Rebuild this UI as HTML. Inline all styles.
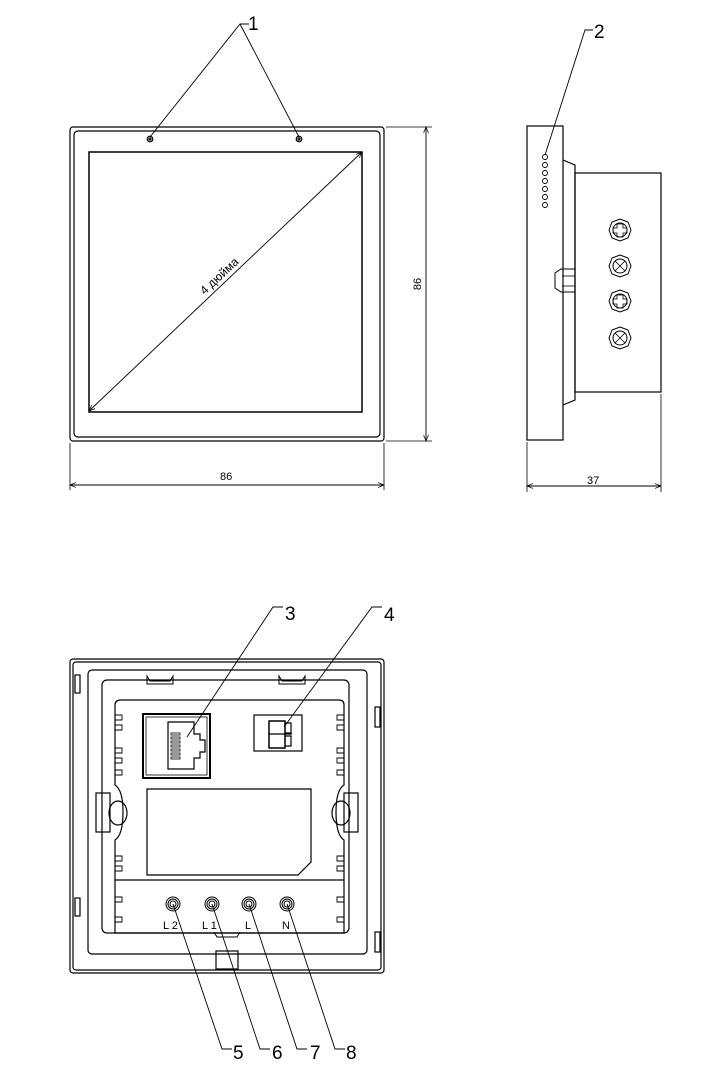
<!DOCTYPE html>
<html><head><meta charset="utf-8"><style>
html,body{margin:0;padding:0;background:#fff;}
svg{display:block;}
text{font-family:"Liberation Sans",sans-serif;fill:#000;}
</style></head><body>
<svg width="714" height="1084" viewBox="0 0 714 1084" xmlns="http://www.w3.org/2000/svg">
<defs>
<marker id="a" viewBox="0 0 10 10" refX="10" refY="5" markerWidth="9" markerHeight="6" orient="auto-start-reverse" markerUnits="userSpaceOnUse"><path d="M0,1 L10,5 L0,9" fill="none" stroke="#000" stroke-width="1.2"/></marker>
</defs>
<g fill="none" stroke="#000" stroke-width="1.2">
<rect x="70" y="127" width="314" height="314" rx="3"/>
<rect x="74" y="131" width="306" height="306" rx="4"/>
<rect x="89" y="152" width="273" height="260" stroke-width="1.5"/>
<circle cx="150" cy="139" r="2.8"/><circle cx="150" cy="139" r="1" />
<circle cx="299" cy="139" r="2.8"/><circle cx="299" cy="139" r="1"/>
<line x1="89" y1="411" x2="362" y2="152" stroke-width="0.9" marker-start="url(#a)" marker-end="url(#a)"/>
<polyline points="150,137 240,24 249,24" stroke-width="0.9"/>
<line x1="299" y1="137" x2="240" y2="24" stroke-width="0.9"/>
<line x1="70" y1="443" x2="70" y2="490" stroke-width="0.8"/>
<line x1="384" y1="443" x2="384" y2="490" stroke-width="0.8"/>
<line x1="70" y1="485" x2="384" y2="485" stroke-width="0.9" marker-start="url(#a)" marker-end="url(#a)"/>
<line x1="386" y1="127" x2="432" y2="127" stroke-width="0.8"/>
<line x1="386" y1="441" x2="432" y2="441" stroke-width="0.8"/>
<line x1="426" y1="127" x2="426" y2="441" stroke-width="0.9" marker-start="url(#a)" marker-end="url(#a)"/>

<rect x="527" y="126" width="36" height="314"/>
<polyline points="563,160 575,165 575,400 563,405"/>
<rect x="575" y="173" width="86" height="219"/>
<g stroke-width="0.9">
<circle cx="545" cy="157" r="2.5"/><circle cx="545" cy="165" r="2.5"/><circle cx="545" cy="173" r="2.5"/><circle cx="545" cy="181" r="2.5"/><circle cx="545" cy="189" r="2.5"/><circle cx="545" cy="197" r="2.5"/><circle cx="545" cy="205" r="2.5"/>
</g>
<polygon points="555,273 561,269 575,269 575,292 561,292 555,288" stroke-width="1"/>
<line x1="562" y1="276" x2="575" y2="276" stroke-width="0.8"/>
<line x1="562" y1="286" x2="575" y2="286" stroke-width="0.8"/>
<g stroke-width="1">
<polygon points="620,219 628,222 631,230 628,238 620,241 612,238 609,230 612,222"/><circle cx="620" cy="230" r="7"/><path d="M617,224h6v4h4v5h-4v4h-6v-4h-4v-5h4z" stroke-width="0.8"/>
<polygon points="620,255 628,258 631,266 628,274 620,277 612,274 609,266 612,258"/><circle cx="620" cy="266" r="7"/><path d="M615,261l10,10M625,261l-10,10" stroke-width="0.8"/>
<polygon points="620,290 628,293 631,301 628,309 620,312 612,309 609,301 612,293"/><circle cx="620" cy="301" r="7"/><path d="M617,295h6v4h4v5h-4v4h-6v-4h-4v-5h4z" stroke-width="0.8"/>
<polygon points="620,327 628,330 631,338 628,346 620,349 612,346 609,338 612,330"/><circle cx="620" cy="338" r="7"/><path d="M615,333l10,10M625,333l-10,10" stroke-width="0.8"/>
</g>
<polyline points="545,155 585,30 593,30" stroke-width="0.9"/>
<line x1="527" y1="442" x2="527" y2="492" stroke-width="0.8"/>
<line x1="661" y1="394" x2="661" y2="492" stroke-width="0.8"/>
<line x1="527" y1="486" x2="661" y2="486" stroke-width="0.9" marker-start="url(#a)" marker-end="url(#a)"/>

<rect x="70" y="659" width="314" height="314" rx="3"/>
<rect x="73" y="662" width="308" height="308" rx="3"/>
<rect x="88" y="670" width="279" height="284" rx="4"/>
<rect x="102" y="680" width="247" height="253" rx="5"/>
<path d="M121,700 H339 Q344,700 344,705 V785 Q336,790 336,812 Q336,835 344,840 V933 H115 V840 Q123,835 123,812 Q123,790 115,785 V705 Q115,700 121,700 Z"/>
<line x1="115" y1="880" x2="344" y2="880"/>
<rect x="143" y="714" width="67" height="64" stroke-width="2"/>
<rect x="146" y="717" width="61" height="58" stroke-width="0.8"/>
<path d="M168,722 H194 V734 H200 V740 H205 V752 H200 V758 H194 V769 H168 Z"/>
<g stroke-width="0.8"><rect x="171" y="733" width="9" height="2"/><rect x="171" y="737" width="9" height="2"/><rect x="171" y="741" width="9" height="2"/><rect x="171" y="745" width="9" height="2"/><rect x="171" y="749" width="9" height="2"/><rect x="171" y="753" width="9" height="2"/><rect x="171" y="757" width="9" height="2"/></g>
<rect x="254" y="715" width="48" height="36"/>
<rect x="269" y="721" width="16" height="27" stroke-width="1.5"/>
<line x1="269" y1="734" x2="292" y2="734"/>
<path d="M285,723h6v10h-6M285,736h6v10h-6"/>
<path d="M147,789 H311 V862 L298,875 H147 Z"/>
<path d="M147,676 l3,5 h20 l3,-5 v8 h-26 z" stroke-width="1"/>
<path d="M279,676 l3,5 h20 l3,-5 v8 h-26 z" stroke-width="1"/>
<path d="M214,932 l3,5 h20 l3,-5" stroke-width="1"/>
<rect x="216" y="951" width="22" height="18"/>
<rect x="96" y="793" width="14" height="39"/>
<ellipse cx="118" cy="813" rx="9" ry="12"/>
<rect x="344" y="793" width="14" height="39"/>
<ellipse cx="341" cy="813" rx="9" ry="12"/>
<rect x="75" y="675" width="5" height="18"/><rect x="75" y="898" width="5" height="18"/>
<rect x="375" y="707" width="5" height="20"/><rect x="375" y="932" width="5" height="20"/>
<g stroke-width="0.9">
<path d="M115,715h7v5h-7M115,725h7v5h-7M115,748h7v5h-7M115,758h7v5h-7M115,770h7v5h-7M115,856h7v5h-7M115,866h7v5h-7M115,897h7v5h-7M115,917h7v5h-7"/>
<path d="M344,715h-7v5h7M344,725h-7v5h7M344,748h-7v5h7M344,758h-7v5h7M344,770h-7v5h7M344,856h-7v5h7M344,866h-7v5h7M344,897h-7v5h7M344,917h-7v5h7"/>
</g>
<g stroke-width="1">
<circle cx="173" cy="904" r="7"/><circle cx="173" cy="904" r="5"/><circle cx="173" cy="904" r="3"/>
<circle cx="212" cy="904" r="7"/><circle cx="212" cy="904" r="5"/><circle cx="212" cy="904" r="3"/>
<circle cx="249" cy="904" r="7"/><circle cx="249" cy="904" r="5"/><circle cx="249" cy="904" r="3"/>
<circle cx="287" cy="904" r="7"/><circle cx="287" cy="904" r="5"/><circle cx="287" cy="904" r="3"/>
</g>
<g stroke-width="0.9">
<polyline points="187,737 273,607 283,607"/>
<polyline points="284,727 372,607 382,607"/>
<polyline points="173,904 222,1049 232,1049"/>
<polyline points="212,904 260,1049 270,1049"/>
<polyline points="249,904 297,1049 307,1049"/>
<polyline points="287,904 335,1049 345,1049"/>
</g>
</g>
<g font-size="12">
<text x="220" y="480" font-size="11">86</text>
<text x="587" y="484" font-size="11">37</text>
<text transform="translate(421,284) rotate(-90)" font-size="11" text-anchor="middle">86</text>
<text transform="translate(222,279) rotate(-43)" font-size="12" text-anchor="middle">4 дюйма</text>
<text x="163" y="929" font-size="11">L 2</text>
<text x="202" y="929" font-size="11">L 1</text>
<text x="245" y="929" font-size="11">L</text>
<text x="282" y="929" font-size="11">N</text>
<text x="248" y="30" font-size="19">1</text>
<text x="594" y="38" font-size="19">2</text>
<text x="285" y="620" font-size="19">3</text>
<text x="384" y="621" font-size="19">4</text>
<text x="233" y="1059" font-size="19">5</text>
<text x="272" y="1059" font-size="19">6</text>
<text x="310" y="1059" font-size="19">7</text>
<text x="346" y="1059" font-size="19">8</text>
</g>
</svg>
</body></html>
